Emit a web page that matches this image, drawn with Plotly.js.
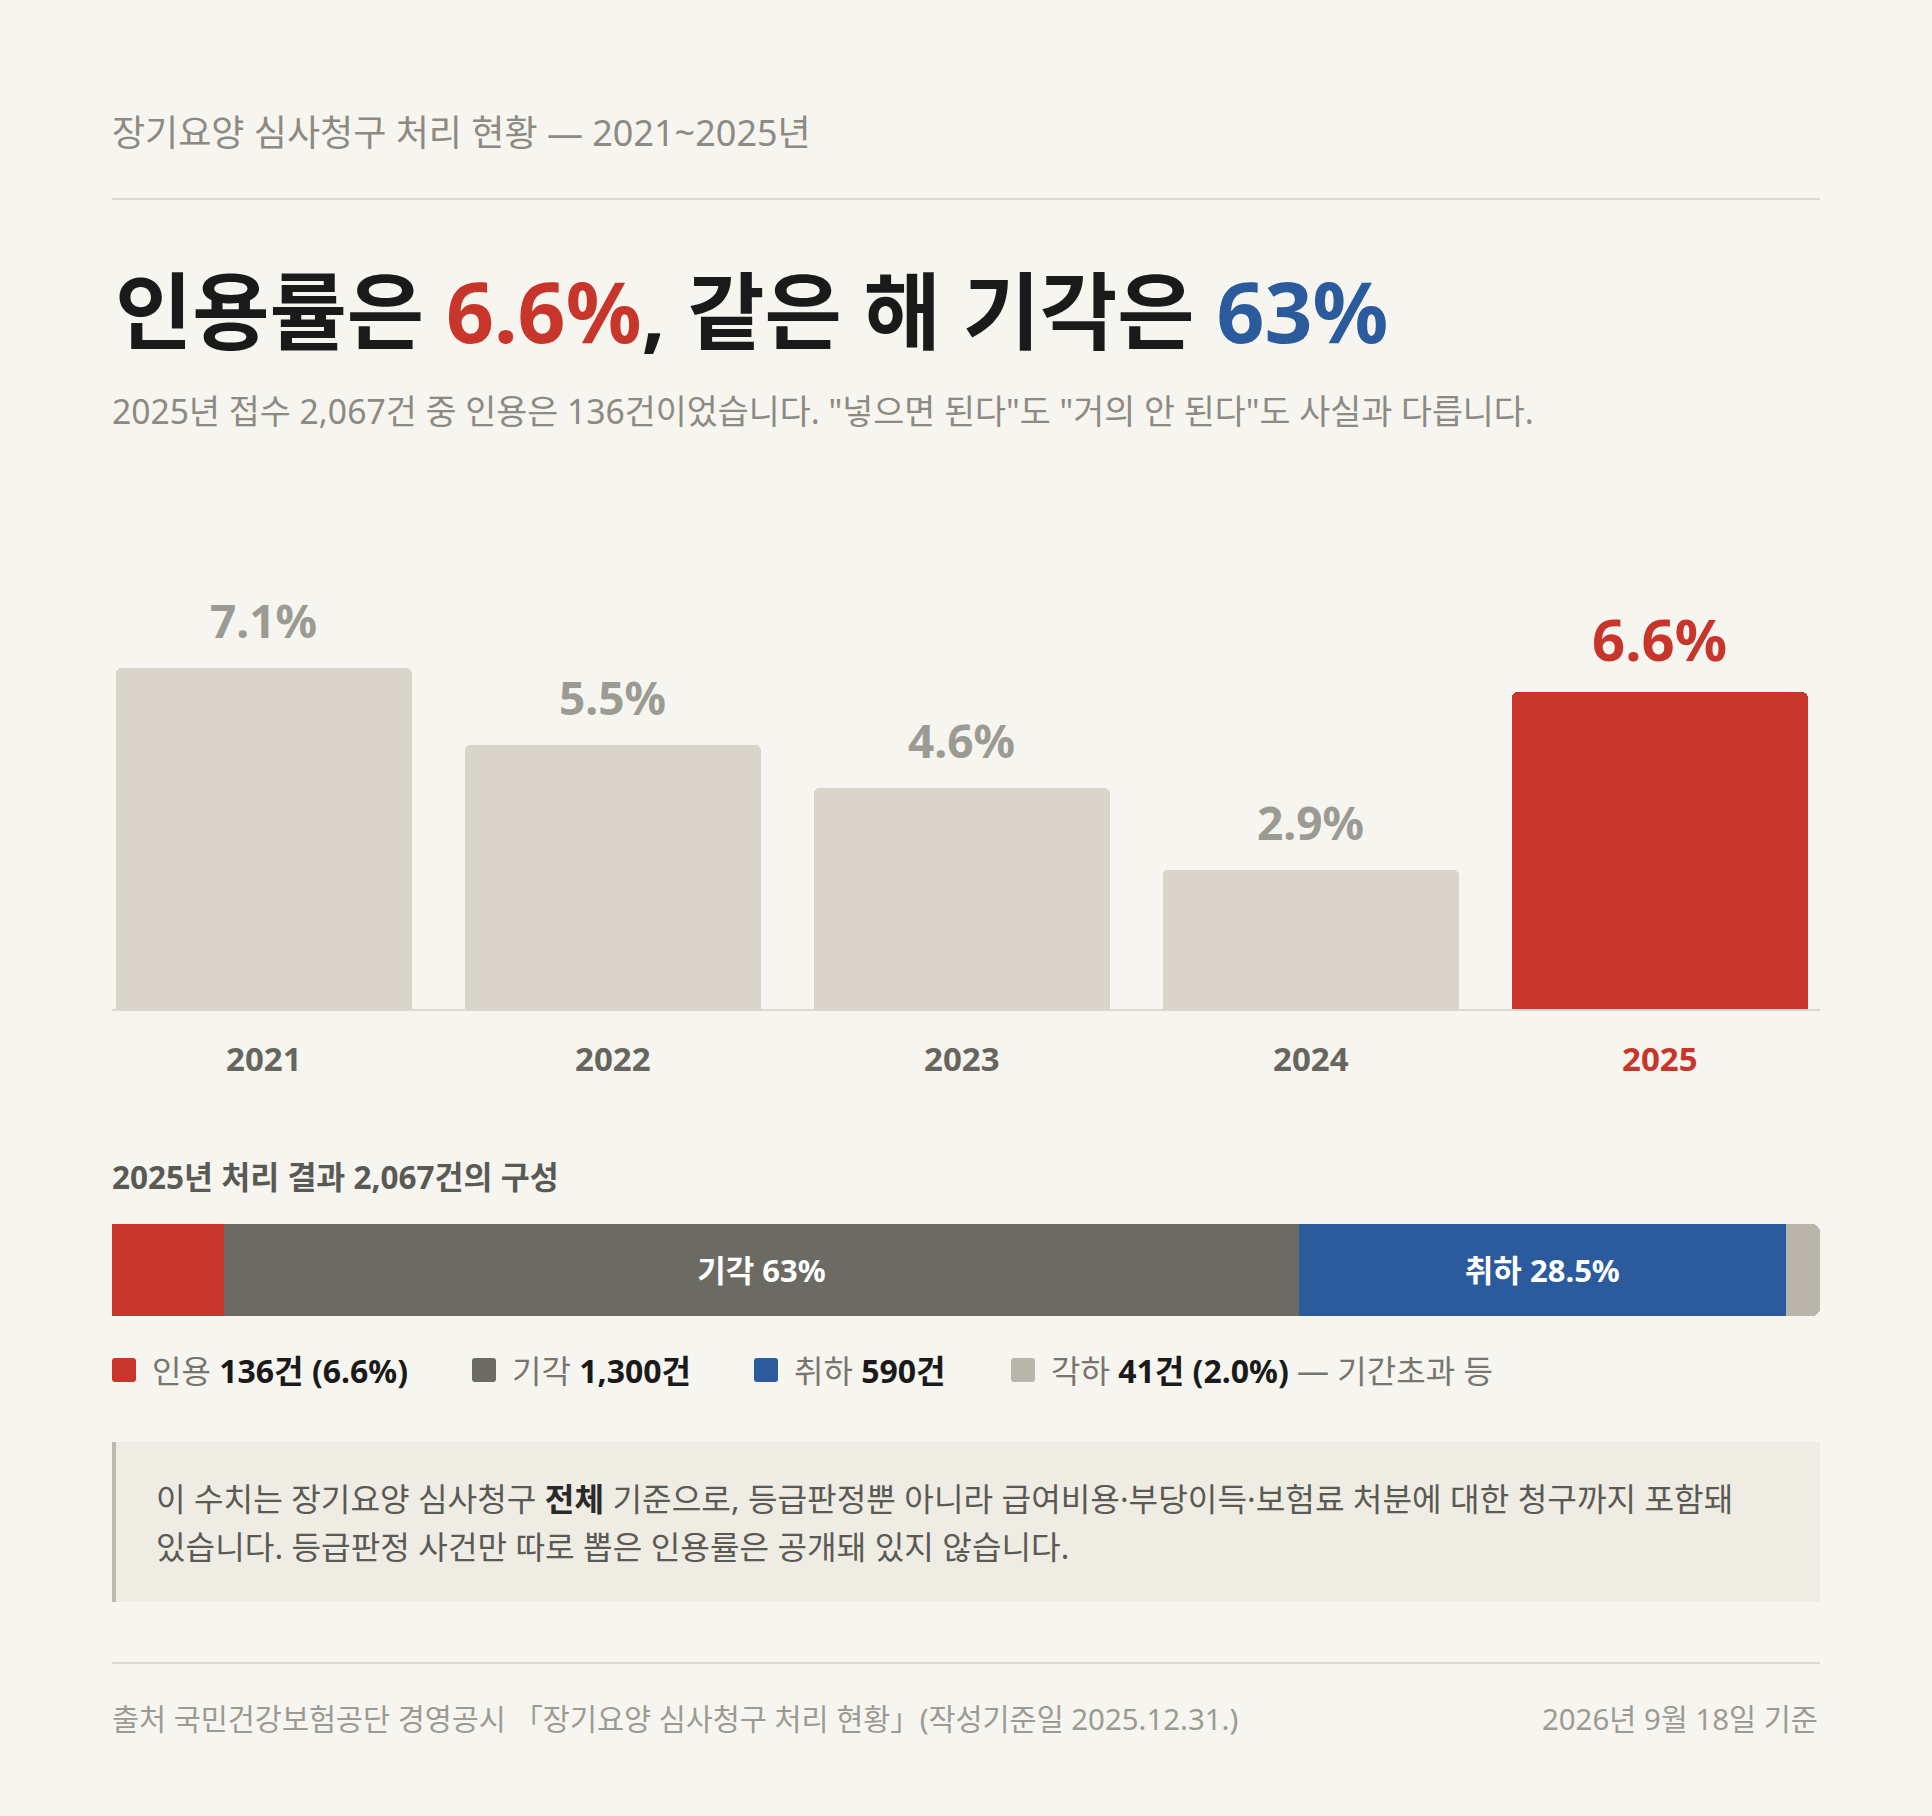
<!DOCTYPE html>
<html>
<head>
<meta charset="utf-8">
<script src="https://cdn.plot.ly/plotly-3.0.1.min.js"></script>
<style>
  html, body { margin: 0; padding: 0; background: #f6f5f0; }
  #graphDiv { width: 1932px; height: 1816px; }
</style>
</head>
<body>
<div id="graphDiv"></div>
<script>
// 장기요양 심사청구 처리 현황 chart

// data
const years = ['2021', '2022', '2023', '2024', '2025']
const upholdRate = [7.1, 5.5, 4.6, 2.9, 6.6]
const rateLabels = ['7.1%', '5.5%', '4.6%', '2.9%', '6.6%']

const outcomeNames = ['인용', '기각', '취하', '각하']
const outcomeCounts = [136, 1300, 590, 41]
const segmentLabels = ['', '기각 63%', '취하 28.5%', '']
const legendCounts = ['136건 (6.6%)', '1,300건', '590건', '41건 (2.0%)']
const legendNotes = ['', '', '', ' — 기간초과 등']

// styles
const W = 1932, H = 1816
const FONT = 'Noto Sans, Noto Sans CJK KR, sans-serif'
const RED = '#c8352b', BLUE = '#2b5b9c', DARK = '#6b6b64', LIGHT = '#b9b5ab'
const outcomeColors = [RED, DARK, BLUE, LIGHT]
const barGrey = '#d9d5ca'
const px = x => x / W
const py = y => 1 - y / H

let graphDiv = document.getElementById('graphDiv')

// top bar chart: last year highlighted
let lastIdx = years.length - 1
let rateTrace = {
    type: 'bar',
    x: years,
    y: upholdRate,
    width: 0.848,
    xaxis: 'x',
    yaxis: 'y',
    marker: {
        color: years.map((_, i) => i === lastIdx ? RED : barGrey),
        cornerradius: 5
    },
    hoverinfo: 'skip',
    showlegend: false
}

// composition bar, one trace per outcome
let compTraces = outcomeNames.map((name, i) => ({
    type: 'bar',
    orientation: 'h',
    name: name,
    x: [outcomeCounts[i]],
    y: [0],
    width: 1,
    xaxis: 'x2',
    yaxis: 'y2',
    marker: { color: outcomeColors[i] },
    text: [segmentLabels[i]],
    textposition: 'inside',
    insidetextanchor: 'middle',
    textangle: 0,
    constraintext: 'none',
    textfont: { family: FONT, size: 31, color: '#ffffff', weight: 700 },
    hoverinfo: 'skip',
    showlegend: false
}))

let total = outcomeCounts.reduce((a, b) => a + b, 0)

let annotations = []
function addText(text, x, y, size, color, opts) {
    annotations.push(Object.assign({
        text: text,
        xref: 'paper', yref: 'paper',
        x: px(x), y: py(y),
        xanchor: 'left', yanchor: 'middle',
        showarrow: false,
        font: { family: FONT, size: size, color: color }
    }, opts || {}))
}

// rounded square in pixel units, drawn as a paper path
function roundSquare(x, y, s, r) {
    let x0 = px(x), x1 = px(x + s), y0 = py(y + s), y1 = py(y)
    let rx = r / W, ry = r / H
    return 'M' + (x0 + rx) + ',' + y0 + ' L' + (x1 - rx) + ',' + y0 + ' Q' + x1 + ',' + y0 + ' ' + x1 + ',' + (y0 + ry) +
        ' L' + x1 + ',' + (y1 - ry) + ' Q' + x1 + ',' + y1 + ' ' + (x1 - rx) + ',' + y1 +
        ' L' + (x0 + rx) + ',' + y1 + ' Q' + x0 + ',' + y1 + ' ' + x0 + ',' + (y1 - ry) +
        ' L' + x0 + ',' + (y0 + ry) + ' Q' + x0 + ',' + y0 + ' ' + (x0 + rx) + ',' + y0 + ' Z'
}

addText('장기요양 심사청구 처리 현황 — 2021~2025년', 110, 133, 36, '#8c8a82')
addText('<b>인용률은 <span style="color:' + RED + '">6.6%</span>, 같은 해 기각은 <span style="color:' + BLUE + '">63%</span></b>',
    113, 310, 84, '#1a1a1a')
addText('2025년 접수 2,067건 중 인용은 136건이었습니다. "넣으면 된다"도 "거의 안 된다"도 사실과 다릅니다.',
    110, 411, 33.7, '#8c8a82')

// value labels above bars (category index on x)
years.forEach((yr, i) => {
    let hi = i === lastIdx
    annotations.push({
        text: '<b>' + rateLabels[i] + '</b>',
        xref: 'x', yref: 'y',
        x: i, y: upholdRate[i],
        xanchor: 'center', yanchor: 'bottom',
        yshift: hi ? 12 : 15,
        showarrow: false,
        font: { family: FONT, size: hi ? 58 : 46, color: hi ? RED : '#9b9a93' }
    })
})

addText('<b>2025년 처리 결과 ' + total.toLocaleString() + '건의 구성</b>', 110, 1176, 31.5, '#5a5a55')

// legend
let legendX = [112, 472, 754, 1011]
let shapes = []
outcomeNames.forEach((name, i) => {
    shapes.push({
        type: 'path', xref: 'paper', yref: 'paper',
        path: roundSquare(legendX[i], 1358, 24, 3),
        fillcolor: outcomeColors[i], line: { width: 0 }
    })
    addText(name + ' <b><span style="color:#1a1a1a">' + legendCounts[i] + '</span></b>' + legendNotes[i],
        legendX[i] + 38, 1370, 32, '#77756e')
})

// note box
shapes.push({ type: 'rect', xref: 'paper', yref: 'paper', x0: px(112), x1: px(1820), y0: py(1602), y1: py(1442),
    fillcolor: '#efece4', line: { width: 0 }, layer: 'below' })
shapes.push({ type: 'rect', xref: 'paper', yref: 'paper', x0: px(112), x1: px(116), y0: py(1602), y1: py(1442),
    fillcolor: '#bcb8ae', line: { width: 0 } })
addText('이 수치는 장기요양 심사청구 <b><span style="color:#2a2a2a">전체</span></b> 기준으로, 등급판정뿐 아니라 급여비용·부당이득·보험료 처분에 대한 청구까지 포함돼',
    154, 1498, 32.2, '#5a5a55')
addText('있습니다. 등급판정 사건만 따로 뽑은 인용률은 공개돼 있지 않습니다.', 154, 1546, 32.2, '#5a5a55')

// rules
shapes.push({ type: 'line', xref: 'paper', yref: 'paper', x0: px(112), x1: px(1820), y0: py(199), y1: py(199),
    line: { color: '#ddd9d1', width: 2 } })
shapes.push({ type: 'line', xref: 'paper', yref: 'paper', x0: px(112), x1: px(1820), y0: py(1663), y1: py(1663),
    line: { color: '#ddd9d1', width: 2 } })
// bar baseline
shapes.push({ type: 'line', xref: 'paper', yref: 'paper', x0: px(112), x1: px(1820), y0: py(1010), y1: py(1010),
    line: { color: '#dcd8cf', width: 2 } })

// footer
addText('출처 국민건강보험공단 경영공시 「장기요양 심사청구 처리 현황」(작성기준일 2025.12.31.)', 110, 1719, 29.4, '#9b9a93')
addText('2026년 9월 18일 기준', 1820, 1719, 29.4, '#9b9a93', { xanchor: 'right' })

let layout = {
    width: W,
    height: H,
    margin: { l: 0, r: 0, t: 0, b: 0 },
    paper_bgcolor: '#f6f5f0',
    plot_bgcolor: 'rgba(0,0,0,0)',
    barmode: 'stack',
    barcornerradius: 8,
    font: { family: FONT },
    xaxis: {
        domain: [px(112), px(1820)],
        type: 'category',
        range: [-0.435, 4.459],
        tickvals: years,
        ticktext: years.map((yr, i) => i === lastIdx ? '<span style="color:' + RED + '">' + yr + '</span>' : yr),
        tickfont: { family: FONT, size: 33, color: '#66665f', weight: 700 },
        ticklabelstandoff: 28,
        ticks: '',
        showgrid: false, zeroline: false, showline: false,
        fixedrange: true
    },
    yaxis: {
        domain: [py(1009), py(560)],
        range: [0, 449 / 48],
        visible: false,
        fixedrange: true
    },
    xaxis2: {
        domain: [px(112), px(1820)],
        range: [0, total],
        visible: false,
        anchor: 'y2',
        fixedrange: true
    },
    yaxis2: {
        domain: [py(1316), py(1224)],
        range: [-0.5, 0.5],
        visible: false,
        anchor: 'x2',
        fixedrange: true
    },
    annotations: annotations,
    shapes: shapes,
    showlegend: false
}

Plotly.newPlot(graphDiv, [rateTrace].concat(compTraces), layout, { displayModeBar: false, staticPlot: true })
</script>
</body>
</html>
